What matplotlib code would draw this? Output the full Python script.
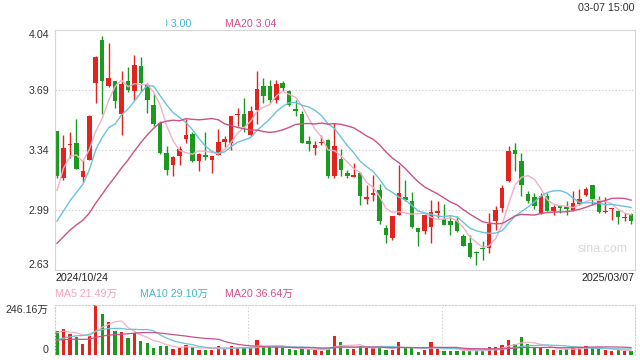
import matplotlib
matplotlib.use("Agg")
import matplotlib.pyplot as plt
import numpy as np
import pandas as pd
from matplotlib.patches import Rectangle

plt.rcParams["font.family"] = ["Liberation Sans", "Noto Sans CJK SC"]

# daily candles 2024/10/24 .. 2025/03/07
open_ = [3.448, 3.174, 3.366, 3.380, 3.180, 3.282, 3.732, 3.986, 3.712, 3.742,
         3.550, 3.742, 3.687, 3.832, 3.722, 3.601, 3.497, 3.321, 3.248, 3.305,
         3.405, 3.432, 3.276, 3.311, 3.282, 3.311, 3.385, 3.380, 3.546, 3.550,
         3.425, 3.575, 3.712, 3.712, 3.634, 3.732, 3.683, 3.577, 3.550, 3.389,
         3.350, 3.380, 3.399, 3.184, 3.287, 3.203, 3.182, 3.203, 3.052, 3.072,
         3.105, 2.880, 2.821, 2.955, 3.060, 3.037, 2.880, 2.865, 2.884, 2.966,
         2.935, 2.923, 2.923, 2.831, 2.792, 2.739, 2.763, 2.763, 2.923, 2.998,
         3.154, 3.340, 3.272, 3.080, 3.060, 2.968, 3.066, 2.982, 3.007, 3.004,
         2.982, 3.021, 3.076, 3.131, 3.037, 2.974, 2.990, 2.978, 2.939, 2.963]
high = [3.450, 3.425, 3.444, 3.522, 3.278, 3.542, 3.890, 4.006, 3.967, 3.742,
        3.804, 3.824, 3.894, 3.883, 3.730, 3.673, 3.507, 3.360, 3.301, 3.360,
        3.522, 3.444, 3.320, 3.444, 3.305, 3.464, 3.419, 3.540, 3.585, 3.644,
        3.595, 3.804, 3.761, 3.752, 3.752, 3.746, 3.693, 3.634, 3.566, 3.419,
        3.389, 3.425, 3.400, 3.497, 3.346, 3.223, 3.262, 3.209, 3.135, 3.194,
        3.139, 2.900, 2.950, 3.252, 3.164, 3.092, 2.880, 2.960, 3.047, 3.041,
        3.021, 2.949, 2.949, 2.845, 2.837, 2.743, 2.802, 2.968, 3.008, 3.135,
        3.360, 3.380, 3.321, 3.096, 3.086, 3.086, 3.086, 3.017, 3.013, 3.041,
        3.100, 3.111, 3.119, 3.131, 3.066, 3.060, 2.998, 2.988, 2.968, 2.968]
low = [3.174, 3.164, 3.291, 3.225, 3.150, 3.280, 3.614, 3.550, 3.706, 3.585,
       3.425, 3.679, 3.634, 3.683, 3.556, 3.477, 3.315, 3.194, 3.184, 3.252,
       3.380, 3.270, 3.213, 3.282, 3.203, 3.310, 3.354, 3.340, 3.477, 3.444,
       3.420, 3.491, 3.614, 3.614, 3.614, 3.683, 3.595, 3.536, 3.378, 3.331,
       3.311, 3.366, 3.174, 3.174, 3.184, 3.174, 3.178, 3.017, 3.021, 3.041,
       2.904, 2.792, 2.812, 2.955, 3.037, 2.880, 2.773, 2.845, 2.792, 2.939,
       2.900, 2.837, 2.857, 2.773, 2.704, 2.661, 2.694, 2.733, 2.870, 2.974,
       3.150, 3.213, 3.066, 3.027, 2.994, 2.965, 2.978, 2.959, 2.968, 2.959,
       2.980, 3.017, 3.066, 3.017, 2.968, 2.968, 2.929, 2.904, 2.919, 2.904]
close = [3.184, 3.350, 3.374, 3.229, 3.213, 3.536, 3.887, 3.746, 3.761, 3.628,
         3.726, 3.689, 3.836, 3.732, 3.634, 3.491, 3.321, 3.223, 3.295, 3.346,
         3.428, 3.276, 3.315, 3.295, 3.305, 3.385, 3.405, 3.536, 3.552, 3.472,
         3.566, 3.697, 3.658, 3.634, 3.726, 3.703, 3.605, 3.569, 3.380, 3.374,
         3.370, 3.385, 3.184, 3.360, 3.223, 3.188, 3.194, 3.066, 3.064, 3.086,
         2.919, 2.841, 2.949, 3.086, 3.047, 2.884, 2.855, 2.959, 2.972, 2.978,
         2.900, 2.896, 2.865, 2.776, 2.708, 2.731, 2.755, 2.904, 2.988, 3.115,
         3.334, 3.315, 3.135, 3.041, 3.007, 3.066, 2.982, 3.002, 2.996, 2.992,
         3.027, 3.053, 3.111, 3.053, 2.974, 2.980, 2.996, 2.943, 2.947, 2.919]
# volume in 万
volume = [118, 129, 103, 90, 54, 93, 246.16, 200, 161, 118,
          113, 82, 110, 71, 58, 34, 44, 44, 31, 34,
          49, 38, 25, 25, 25, 43, 30, 43, 34, 38,
          38, 74, 41, 38, 44, 34, 28, 25, 31, 28,
          25, 20, 31, 93, 62, 28, 28, 43, 35, 35,
          41, 25, 25, 62, 38, 33, 16, 25, 62, 28,
          21, 21, 21, 20, 21, 21, 20, 38, 38, 51,
          72, 52, 88, 52, 33, 37, 30, 25, 25, 28,
          38, 36, 46, 36, 28, 24, 20, 23, 20, 20]
# sessions before the window, only needed to seed the moving averages
pre_close = [2.58, 2.60, 2.62, 2.66, 2.70, 2.72, 2.70, 2.68, 2.66, 2.68,
             2.76, 2.78, 2.74, 2.72, 2.70, 2.70, 3.03, 3.18, 3.41]
pre_volume = [80, 75, 70, 72, 68, 74, 70, 72, 66, 73,
              42, 38, 36, 40, 34, 95, 120, 110, 107]

price_ticks = ["2.63", "2.99", "3.34", "3.69", "4.04"]
vol_ticks = ["0", "246.16万"]
first_date, last_date = "2024/10/24", "2025/03/07"
stamp = "03-07 15:00"
price_legend = ["MA5 2.96", "MA10 3.00", "MA20 3.04"]
vol_legend = ["MA5 21.49万", "MA10 29.10万", "MA20 36.64万"]

RED, GREEN = "#e3231d", "#1c9a1f"
MA_COLORS = ["#f2b0c6", "#6cc3d5", "#cb5289"]
LEGEND_COLORS = ["#f0a3be", "#45b6cc", "#d24f8a"]
GRID = "#cfcfcf"
W, H = 640, 360


def box(x0, y0, x1, y1):
    """pixel box (top-left origin) -> figure fraction rect"""
    return [x0 / W, 1 - y1 / H, (x1 - x0) / W, (y1 - y0) / H]


fig = plt.figure(figsize=(6.4, 3.6), dpi=100)
ax = fig.add_axes(box(55, 29.7, 635, 269.7))
axv = fig.add_axes(box(55, 305, 635, 355))

x = np.arange(len(close))
o, h, l, c = (np.array(v) for v in (open_, high, low, close))
colors = np.where(c >= o, RED, GREEN)

ax.vlines(x, l, h, colors=colors, lw=1, zorder=2)
ax.bar(x, np.maximum(np.abs(c - o), 0.006), bottom=np.minimum(o, c),
       width=0.7, color=colors, linewidth=0, zorder=2)

closes = pd.Series(pre_close + close)
vols = pd.Series(pre_volume + volume)
n0 = len(pre_close)
for n, col in zip((5, 10, 20), MA_COLORS):
    ax.plot(x, closes.rolling(n).mean().to_numpy()[n0:], color=col, lw=1, zorder=3)
    axv.plot(x, vols.rolling(n).mean().to_numpy()[n0:], color=col, lw=0.9, zorder=3)

xlim = (-0.31, 89.61)
ax.set_xlim(*xlim)
ax.set_ylim(2.635, 4.045)
yt = np.linspace(2.635, 4.045, 5)
ax.set_yticks(yt, price_ticks)
ax.set_xticks([])
ax.tick_params(axis="y", length=0, pad=4, labelsize=7.7, labelcolor="#333333")
tl = ax.get_yticklabels()
tl[0].set_va("bottom")
tl[-1].set_va("top")
for v in yt[1:-1]:
    ax.axhline(v, color=GRID, lw=0.8, ls=(0, (1.2, 1.8)), zorder=1)
for s in ax.spines.values():
    s.set_color("#d6d6d6")
    s.set_linewidth(0.8)

axv.bar(x, volume, width=0.5, color=colors, linewidth=0, zorder=2)
axv.set_xlim(*xlim)
axv.set_ylim(0, 246.16)
axv.set_yticks([0, 246.16], vol_ticks)
axv.set_xticks([])
axv.tick_params(axis="y", length=0, pad=5, labelsize=7.7, labelcolor="#333333")
vl = axv.get_yticklabels()
vl[0].set_va("bottom")
vl[-1].set_va("top")
for side in ("left", "right", "top"):
    axv.spines[side].set_color(GRID)
    axv.spines[side].set_linewidth(0.8)
    axv.spines[side].set_linestyle((0, (1.2, 1.8)))
axv.spines["bottom"].set_visible(False)
for k in (1, 2):
    axv.axvline(xlim[0] + (xlim[1] - xlim[0]) * k / 3, color=GRID, lw=0.8,
                ls=(0, (1.2, 1.8)), zorder=1)

# header / footer texts
fig.text(634 / W, 1 - 8 / H, stamp, ha="right", va="center", fontsize=7.7, color="#333333")
fig.text(55 / W, 1 - 278 / H, first_date, ha="left", va="center", fontsize=7.7, color="#222222")
fig.text(634 / W, 1 - 278 / H, last_date, ha="right", va="center", fontsize=7.7, color="#222222")
for txt, px, col in zip(price_legend, (55, 140, 225), LEGEND_COLORS):
    fig.text(px / W, 1 - 24 / H, txt, ha="left", va="center", fontsize=7.7, color=col)
for txt, px, col in zip(vol_legend, (55, 140, 225), LEGEND_COLORS):
    fig.text(px / W, 1 - 294 / H, txt, ha="left", va="center", fontsize=7.7, color=col)
# white overlay box that hides the left part of the price legend
fig.patches.append(Rectangle((50 / W, 1 - 28.8 / H), 115.5 / W, 28.8 / H,
                             transform=fig.transFigure, facecolor="white",
                             edgecolor="none", zorder=5))
fig.text(603 / W, 1 - 249 / H, "sina.com", ha="center", va="center",
         fontsize=9, color="#d9d9d9")

fig.savefig("out.png", dpi=100)
